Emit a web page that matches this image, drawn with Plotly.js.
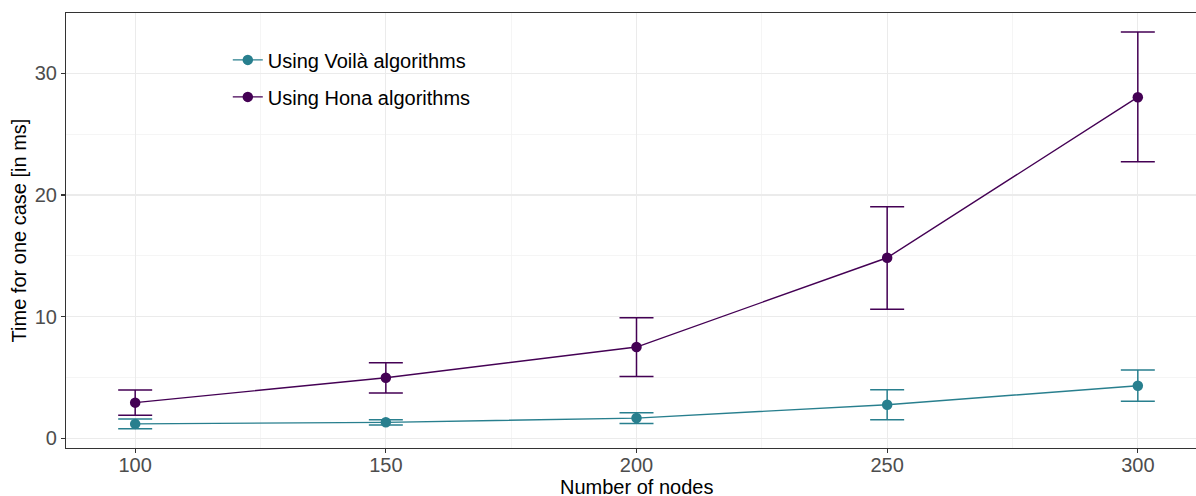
<!DOCTYPE html>
<html>
<head>
<meta charset="utf-8">
<script src="https://cdn.plot.ly/plotly-3.0.1.min.js"></script>
<style>
html, body { margin:0; padding:0; overflow:hidden; background:#fff; }
#chart { width:1207px; height:496px; }
</style>
</head>
<body>
<div id="chart"></div>
<script>
// Data
const nodes = [100, 150, 200, 250, 300];
const voilaMean = [1.18, 1.31, 1.66, 2.76, 4.32];
const voilaLow  = [0.79, 1.10, 1.21, 1.53, 3.04];
const voilaHigh = [1.59, 1.52, 2.09, 3.99, 5.61];
const honaMean = [2.93, 4.98, 7.50, 14.84, 28.04];
const honaLow  = [1.89, 3.72, 5.08, 10.60, 22.73];
const honaHigh = [3.97, 6.21, 9.91, 19.03, 33.39];
const seriesNames = ["Using Voilà algorithms", "Using Hona algorithms"];
const xTicks = [100, 150, 200, 250, 300];
const yTicks = [0, 10, 20, 30];
const xTitle = "Number of nodes";
const yTitle = "Time for one case [in ms]";

const voilaColor = "#287F8E";
const honaColor = "#440154";

function trace(name, mean, lo, hi, color, group) {
  return {
    type: "scatter",
    mode: "lines+markers",
    name: name,
    legendgroup: group,
    x: nodes,
    y: mean,
    line: { color: color, width: 1.4 },
    marker: { color: color, size: 10.5 },
    error_y: {
      type: "data",
      symmetric: false,
      array: hi.map((h, i) => h - mean[i]),
      arrayminus: lo.map((l, i) => mean[i] - l),
      color: color,
      thickness: 1.5,
      width: 17
    }
  };
}

const data = [
  trace(seriesNames[0], voilaMean, voilaLow, voilaHigh, voilaColor, "g1"),
  trace(seriesNames[1], honaMean, honaLow, honaHigh, honaColor, "g2")
];

const font = "Liberation Sans, Arial, Helvetica, sans-serif";

const layout = {
  width: 1207,
  height: 496,
  margin: { l: 66, r: 0, t: 13, b: 48, pad: 0 },
  paper_bgcolor: "#ffffff",
  plot_bgcolor: "#ffffff",
  font: { family: font, size: 20, color: "#000000" },
  showlegend: true,
  legend: {
    x: 0.1418, y: 0.937, xanchor: "left", yanchor: "top",
    bgcolor: "rgba(0,0,0,0)",
    font: { family: font, size: 20, color: "#000000" },
    tracegroupgap: 8,
    traceorder: "grouped"
  },
  xaxis: {
    range: [86.2, 313.8],
    tickvals: xTicks,
    ticktext: xTicks.map(String),
    ticks: "outside", ticklen: 4, tickwidth: 1.1, tickcolor: "#333333",
    ticklabelstandoff: -5,
    tickfont: { family: font, size: 20, color: "#4D4D4D" },
    showgrid: true, gridcolor: "#EBEBEB", gridwidth: 1.1,
    minor: { tickvals: [125, 175, 225, 275], showgrid: true, gridcolor: "#F2F2F2", gridwidth: 0.8, ticks: "" },
    zeroline: false,
    showline: true, linecolor: "#333333", linewidth: 1.1, mirror: true
  },
  yaxis: {
    range: [-0.8, 34.96],
    tickvals: yTicks,
    ticktext: yTicks.map(String),
    ticks: "outside", ticklen: 4, tickwidth: 1.1, tickcolor: "#333333",
    tickfont: { family: font, size: 20, color: "#4D4D4D" },
    showgrid: true, gridcolor: "#EBEBEB", gridwidth: 1.1,
    minor: { tickvals: [5, 15, 25], showgrid: true, gridcolor: "#F2F2F2", gridwidth: 0.8, ticks: "" },
    zeroline: false,
    showline: true, linecolor: "#333333", linewidth: 1.1, mirror: true,
    title: { text: yTitle, font: { family: font, size: 20, color: "#000000" }, standoff: 2 }
  },
  annotations: [{
    text: xTitle,
    xref: "paper", yref: "paper",
    x: 0.5, y: 0,
    xanchor: "center", yanchor: "middle",
    yshift: -39,
    showarrow: false,
    font: { family: font, size: 20, color: "#000000" }
  }]
};

Plotly.newPlot("chart", data, layout, { displayModeBar: false, staticPlot: true });
</script>
</body>
</html>
